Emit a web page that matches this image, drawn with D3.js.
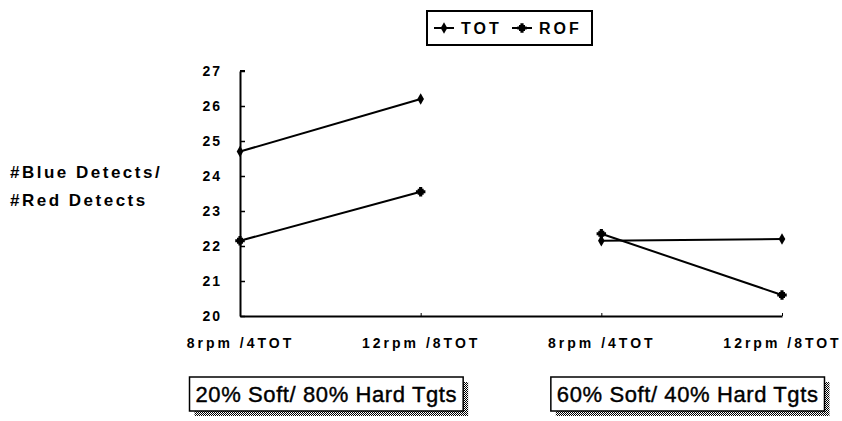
<!DOCTYPE html>
<html>
<head>
<meta charset="utf-8">
<script src="https://cdn.jsdelivr.net/npm/d3@7"></script>
<style>
body { margin: 0; background: #fff; }
svg { display: block; }
</style>
</head>
<body>
<div id="chart"></div>
<script>
// data
var categories = ["8rpm /4TOT", "12rpm /8TOT", "8rpm /4TOT", "12rpm /8TOT"];
var groups = ["20% Soft/ 80% Hard Tgts", "60% Soft/ 40% Hard Tgts"];
var seriesNames = ["TOT", "ROF"];
var tot = [24.7, 26.2, 22.15, 22.2];
var rof = [22.15, 23.55, 22.35, 20.6];
var yTicks = [20, 21, 22, 23, 24, 25, 26, 27];
var yTitle = ["#Blue Detects/", "#Red Detects"];

var W = 842, H = 421;
var svg = d3.select("#chart").append("svg").attr("width", W).attr("height", H);

var defs = svg.append("defs");
var pat = defs.append("pattern").attr("id", "dither").attr("width", 2).attr("height", 2).attr("patternUnits", "userSpaceOnUse");
pat.append("rect").attr("width", 2).attr("height", 2).attr("fill", "#fff");
pat.append("rect").attr("width", 1).attr("height", 1).attr("fill", "#000");
pat.append("rect").attr("x", 1).attr("y", 1).attr("width", 1).attr("height", 1).attr("fill", "#000");

var x = d3.scalePoint().domain(d3.range(categories.length)).range([240, 782]);
var y = d3.scaleLinear().domain([20, 27]).range([316, 71]);

var tickFont = "bold 14px 'Liberation Sans', Arial, sans-serif";

// y axis, ticks pointing inward
var yAxis = svg.append("g").attr("transform", "translate(" + x(0) + ",0)")
    .call(d3.axisLeft(y).tickValues(yTicks).tickFormat(d3.format("d")).tickSizeInner(-5).tickSizeOuter(0).tickPadding(18));
yAxis.select(".domain").attr("stroke-width", 2);
yAxis.selectAll(".tick line").attr("stroke-width", 1.5);
yAxis.selectAll("text").style("font", tickFont).style("letter-spacing", "2px").attr("fill", "#000");
// little hook at the top
svg.append("line").attr("x1", x(0)).attr("x2", x(0) + 5).attr("y1", y(27)).attr("y2", y(27)).attr("stroke", "#000").attr("stroke-width", 2);

// x axis
var xAxis = svg.append("g").attr("transform", "translate(0," + y(20) + ")")
    .call(d3.axisBottom(x).tickFormat(function(i) { return categories[i]; }).tickSizeInner(-3).tickSizeOuter(0).tickPadding(22));
xAxis.select(".domain").attr("stroke-width", 2);
xAxis.selectAll("text").style("font", tickFont).style("letter-spacing", "3px").attr("fill", "#000");

// y title
var yt = svg.append("text").attr("x", 10).attr("y", 178)
    .style("font", "bold 17px 'Liberation Sans', Arial, sans-serif").style("letter-spacing", "2.5px");
yt.selectAll("tspan").data(yTitle).enter().append("tspan")
    .attr("x", 10).attr("dy", function(d, i) { return i ? 28 : 0; }).text(function(d) { return d; });

// lines, drawn per group (no link between groups)
var segs = [[0, 1], [2, 3]];
var line = d3.line().x(function(d) { return x(d.i); }).y(function(d) { return y(d.v); });
[tot, rof].forEach(function(vals, s) {
    segs.forEach(function(seg) {
        var pts = seg.map(function(i) { return { i: i, v: vals[i] }; });
        svg.append("path").datum(pts).attr("d", line).attr("fill", "none").attr("stroke", "#000").attr("stroke-width", 2);
    });
});

function marker(g, s, cx, cy) {
    if (s === 0) {
        g.append("path").attr("d", d3.symbol().type(d3.symbolDiamond).size(38)()).attr("transform", "translate(" + cx + "," + cy + ")").attr("fill", "#000");
    } else {
        g.append("path").attr("d", d3.symbol().type(d3.symbolSquare).size(36)()).attr("transform", "translate(" + cx + "," + cy + ")").attr("fill", "#000");
        g.append("path").attr("d", d3.symbol().type(d3.symbolCross).size(50)()).attr("transform", "translate(" + cx + "," + cy + ")").attr("fill", "#000");
    }
}
[tot, rof].forEach(function(vals, s) {
    vals.forEach(function(v, i) { marker(svg, s, x(i), y(v)); });
});

// group boxes with dithered shadow
groups.forEach(function(label, gi) {
    var cx = (x(gi * 2) + x(gi * 2 + 1)) / 2 - 4;
    var g = svg.append("g");
    var t = g.append("text").attr("x", cx).attr("y", 402).attr("text-anchor", "middle")
        .style("font", "22px 'Liberation Sans', Arial, sans-serif").style("letter-spacing", "0.6px")
        .attr("stroke", "#000").attr("stroke-width", 0.4).text(label);
    var bb = t.node().getBBox();
    var bx = bb.x - 6, bw = bb.width + 12, by = 377, bh = 34;
    g.insert("rect", "text").attr("x", bx + 5).attr("y", by + 5).attr("width", bw).attr("height", bh).attr("fill", "url(#dither)");
    g.insert("rect", "text").attr("x", bx).attr("y", by).attr("width", bw).attr("height", bh).attr("fill", "#fff").attr("stroke", "#000").attr("stroke-width", 1.5);
});

// legend
var lg = svg.append("g");
lg.append("rect").attr("x", 427).attr("y", 11).attr("width", 165).attr("height", 34).attr("fill", "#fff").attr("stroke", "#000").attr("stroke-width", 2);
seriesNames.forEach(function(name, s) {
    var ox = 434 + s * 78;
    lg.append("line").attr("x1", ox).attr("x2", ox + 20).attr("y1", 28).attr("y2", 28).attr("stroke", "#000").attr("stroke-width", 2);
    marker(lg, s, ox + 10, 28);
    lg.append("text").attr("x", ox + 27).attr("y", 34).style("font", "bold 16px 'Liberation Sans', Arial, sans-serif").style("letter-spacing", "3px").text(name);
});
</script>
</body>
</html>
